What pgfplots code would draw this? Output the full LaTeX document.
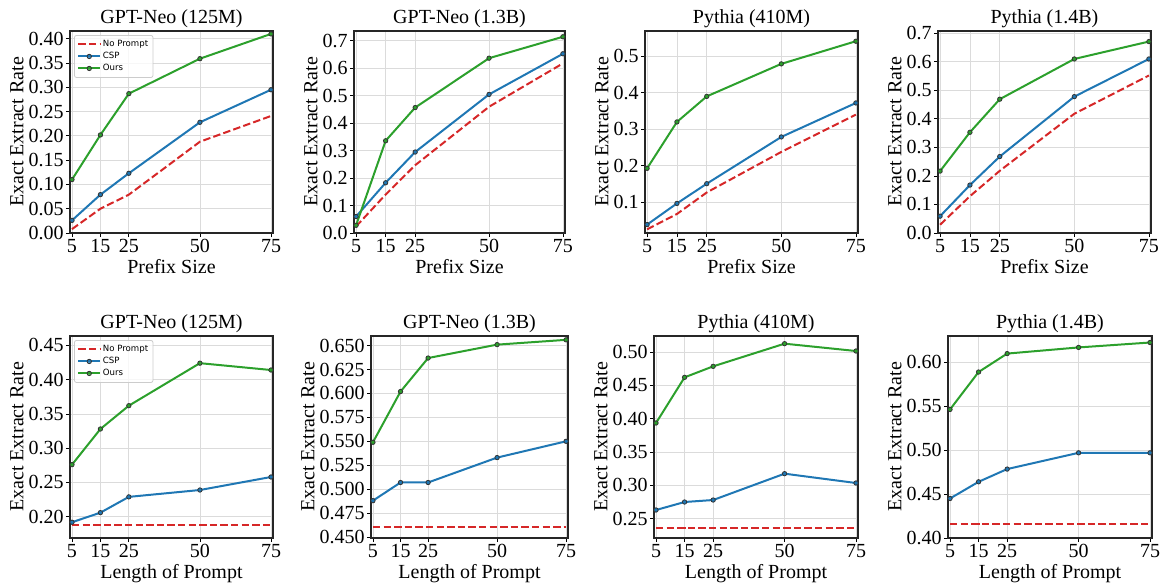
\documentclass[border=0pt]{standalone}
\usepackage{pgfplots}
\pgfplotsset{compat=1.18}
\usepackage{fontspec}
\setmainfont{Liberation Serif}
\newfontfamily\legfont{DejaVu Sans}

\definecolor{tabred}{HTML}{D62728}
\definecolor{tabblue}{HTML}{1F77B4}
\definecolor{tabgreen}{HTML}{2CA02C}

\pgfplotsset{
  panel/.style={
    scale only axis,
    height=101pt,
    xmin=4.3, xmax=75.7,
    xtick={5,15,25,50,75},
    xtick pos=bottom, ytick pos=left,
    grid=major,
    major grid style={line width=0.4pt, draw=black!14},
    axis line style={line width=0.6pt, draw=black!85},
    tick align=outside,
    major tick length=2pt,
    tick style={line width=0.4pt, black},
    ylabel={Exact Extract Rate},
    /pgf/number format/assume math mode=true,
    tick label style={font=\fontsize{10}{12}\selectfont},
    xticklabel style={inner sep=1pt},
    yticklabel style={inner sep=1pt, /pgf/number format/fixed, /pgf/number format/fixed zerofill},
    label style={font=\fontsize{10}{12}\selectfont},
    ylabel style={yshift=-2pt},
    xlabel style={yshift=1.5pt},
    title style={font=\fontsize{10}{12}\selectfont, yshift=-8pt},
  },
  leg/.style={
    legend cell align=left,
    legend style={at={(0.02,0.98)}, anchor=north west,
      font=\legfont\fontsize{4.3}{5}\selectfont,
      draw=black!20, rounded corners=1pt, fill=white, fill opacity=0.8,
      text opacity=1, row sep=0pt, inner sep=1.5pt,
      nodes={inner sep=0.9pt, text height=3.3pt, text depth=0.9pt}},
    legend image code/.code={
      \draw[mark repeat=2,mark phase=2] plot coordinates {(0cm,0cm) (0.19cm,0cm) (0.38cm,0cm)};
    },
  },
  noprompt/.style={tabred, line width=1pt, dash pattern=on 3.7pt off 1.6pt},
  csp/.style={tabblue, line width=1pt, mark=*, mark size=1.1pt,
    mark options={solid, draw=black!80, fill=tabblue, line width=0.4pt}},
  ours/.style={tabgreen, line width=1pt, mark=*, mark size=1.1pt,
    mark options={solid, draw=black!80, fill=tabgreen, line width=0.4pt}},
}

\begin{document}
\begin{tikzpicture}

% ---------------- top row: prefix size ----------------
\begin{axis}[panel, leg, at={(35pt,176.5pt)}, anchor=south west, width=101.5pt,
  title={GPT-Neo (125M)}, xlabel={Prefix Size},
  ymin=0, ymax=0.416,
  ytick={0,0.05,0.1,0.15,0.2,0.25,0.3,0.35,0.4},
  yticklabel style={/pgf/number format/precision=2}]
\addplot[noprompt] coordinates {(5,0.008)(15,0.050)(25,0.079)(50,0.188)(75,0.241)};
\addlegendentry{No Prompt}
\addplot[csp] coordinates {(5,0.026)(15,0.079)(25,0.123)(50,0.228)(75,0.295)};
\addlegendentry{CSP}
\addplot[ours] coordinates {(5,0.110)(15,0.202)(25,0.287)(50,0.359)(75,0.410)};
\addlegendentry{Ours}
\end{axis}

\begin{axis}[panel, at={(177pt,176.5pt)}, anchor=south west, width=105.5pt,
  title={GPT-Neo (1.3B)}, xlabel={Prefix Size},
  ymin=0, ymax=0.736,
  ytick={0,0.1,0.2,0.3,0.4,0.5,0.6,0.7},
  yticklabel style={/pgf/number format/precision=1}]
\addplot[noprompt] coordinates {(5,0.024)(15,0.140)(25,0.247)(50,0.460)(75,0.618)};
\addplot[csp] coordinates {(5,0.060)(15,0.183)(25,0.295)(50,0.505)(75,0.653)};
\addplot[ours] coordinates {(5,0.028)(15,0.336)(25,0.457)(50,0.637)(75,0.715)};
\end{axis}

\begin{axis}[panel, at={(322.5pt,176.5pt)}, anchor=south west, width=106.5pt,
  title={Pythia (410M)}, xlabel={Prefix Size},
  ymin=0.016, ymax=0.569,
  ytick={0.1,0.2,0.3,0.4,0.5},
  yticklabel style={/pgf/number format/precision=1}]
\addplot[noprompt] coordinates {(5,0.026)(15,0.068)(25,0.127)(50,0.238)(75,0.340)};
\addplot[csp] coordinates {(5,0.039)(15,0.097)(25,0.151)(50,0.279)(75,0.372)};
\addplot[ours] coordinates {(5,0.193)(15,0.320)(25,0.390)(50,0.479)(75,0.541)};
\end{axis}

\begin{axis}[panel, at={(469pt,176.5pt)}, anchor=south west, width=106.5pt,
  title={Pythia (1.4B)}, xlabel={Prefix Size},
  ymin=0, ymax=0.708,
  ytick={0,0.1,0.2,0.3,0.4,0.5,0.6,0.7},
  yticklabel style={/pgf/number format/precision=1}]
\addplot[noprompt] coordinates {(5,0.029)(15,0.129)(25,0.218)(50,0.418)(75,0.552)};
\addplot[csp] coordinates {(5,0.059)(15,0.168)(25,0.268)(50,0.478)(75,0.610)};
\addplot[ours] coordinates {(5,0.217)(15,0.353)(25,0.469)(50,0.610)(75,0.671)};
\end{axis}

% ---------------- bottom row: prompt length ----------------
\begin{axis}[panel, leg, at={(35pt,24pt)}, anchor=south west, width=101.5pt,
  title={GPT-Neo (125M)}, xlabel={Length of Prompt},
  ymin=0.169, ymax=0.4636,
  ytick={0.2,0.25,0.3,0.35,0.4,0.45},
  yticklabel style={/pgf/number format/precision=2}]
\addplot[noprompt] coordinates {(5,0.188)(15,0.188)(25,0.188)(50,0.188)(75,0.188)};
\addlegendentry{No Prompt}
\addplot[csp] coordinates {(5,0.192)(15,0.206)(25,0.229)(50,0.239)(75,0.258)};
\addlegendentry{CSP}
\addplot[ours] coordinates {(5,0.276)(15,0.328)(25,0.362)(50,0.424)(75,0.414)};
\addlegendentry{Ours}
\end{axis}

\begin{axis}[panel, at={(185.5pt,24pt)}, anchor=south west, width=98.5pt,
  title={GPT-Neo (1.3B)}, xlabel={Length of Prompt},
  ymin=0.449, ymax=0.660,
  ytick={0.45,0.475,0.5,0.525,0.55,0.575,0.6,0.625,0.65},
  yticklabel style={/pgf/number format/precision=3}]
\addplot[noprompt] coordinates {(5,0.461)(15,0.461)(25,0.461)(50,0.461)(75,0.461)};
\addplot[csp] coordinates {(5,0.488)(15,0.507)(25,0.507)(50,0.533)(75,0.550)};
\addplot[ours] coordinates {(5,0.549)(15,0.602)(25,0.637)(50,0.651)(75,0.656)};
\end{axis}

\begin{axis}[panel, at={(327pt,24pt)}, anchor=south west, width=102pt,
  title={Pythia (410M)}, xlabel={Length of Prompt},
  ymin=0.221, ymax=0.524,
  ytick={0.25,0.3,0.35,0.4,0.45,0.5},
  yticklabel style={/pgf/number format/precision=2}]
\addplot[noprompt] coordinates {(5,0.236)(15,0.236)(25,0.236)(50,0.236)(75,0.236)};
\addplot[csp] coordinates {(5,0.263)(15,0.275)(25,0.278)(50,0.3175)(75,0.3035)};
\addplot[ours] coordinates {(5,0.3935)(15,0.462)(25,0.4785)(50,0.5125)(75,0.5015)};
\end{axis}

\begin{axis}[panel, at={(474pt,24pt)}, anchor=south west, width=102pt,
  title={Pythia (1.4B)}, xlabel={Length of Prompt},
  ymin=0.40, ymax=0.630,
  ytick={0.4,0.45,0.5,0.55,0.6},
  yticklabel style={/pgf/number format/precision=2}]
\addplot[noprompt] coordinates {(5,0.416)(15,0.416)(25,0.416)(50,0.416)(75,0.416)};
\addplot[csp] coordinates {(5,0.445)(15,0.464)(25,0.4785)(50,0.497)(75,0.497)};
\addplot[ours] coordinates {(5,0.5464)(15,0.589)(25,0.610)(50,0.617)(75,0.6226)};
\end{axis}

\pgfresetboundingbox
\useasboundingbox (0,0) rectangle (583pt,293pt);
\end{tikzpicture}
\end{document}
